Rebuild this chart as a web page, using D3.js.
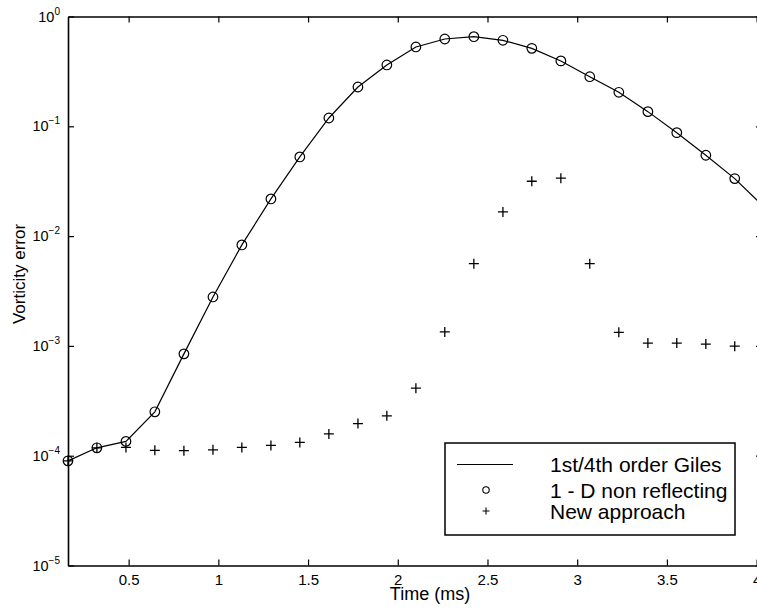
<!DOCTYPE html>
<html>
<head>
<meta charset="utf-8">
<script src="https://cdn.jsdelivr.net/npm/d3@7"></script>
<style>
  html, body { margin: 0; padding: 0; background: #fff; }
  svg { display: block; font-family: "Liberation Sans", Arial, Helvetica, sans-serif; }
</style>
</head>
<body>
<svg id="chart" width="757" height="609"></svg>
<script>
// ---- data ----
const times = [0.162, 0.323, 0.485, 0.646, 0.808, 0.970, 1.131, 1.293, 1.454, 1.616, 1.778, 1.939,
               2.101, 2.262, 2.424, 2.586, 2.747, 2.909, 3.070, 3.232, 3.394, 3.555, 3.717, 3.878];
const gilesTimes = [0.162, 0.323, 0.485, 0.646, 0.808, 0.970, 1.131, 1.293, 1.454, 1.616, 1.778, 1.939,
               2.101, 2.262, 2.424, 2.586, 2.747, 2.909, 3.070, 3.232, 3.394, 3.555, 3.717, 3.878, 4.040];
const gilesValues = [8.98e-5, 1.18e-4, 1.35e-4, 2.51e-4, 8.46e-4, 2.79e-3, 8.31e-3, 2.18e-2, 5.26e-2,
               0.119, 0.228, 0.362, 0.528, 0.624, 0.655, 0.607, 0.513, 0.394, 0.283, 0.204, 0.136,
               0.0875, 0.0545, 0.0334, 0.0185];
const nonReflValues = [8.98e-5, 1.18e-4, 1.35e-4, 2.51e-4, 8.46e-4, 2.79e-3, 8.31e-3, 2.18e-2, 5.26e-2,
               0.119, 0.228, 0.362, 0.528, 0.624, 0.655, 0.607, 0.513, 0.394, 0.283, 0.204, 0.136,
               0.0875, 0.0545, 0.0334];
const newValues = [8.98e-5, 1.18e-4, 1.19e-4, 1.12e-4, 1.11e-4, 1.13e-4, 1.19e-4, 1.24e-4, 1.32e-4,
               1.58e-4, 1.96e-4, 2.31e-4, 4.12e-4, 1.34e-3, 5.61e-3, 1.66e-2, 3.16e-2, 3.37e-2,
               5.61e-3, 1.33e-3, 1.06e-3, 1.06e-3, 1.04e-3, 9.94e-4];
const xTicks = [0.5, 1, 1.5, 2, 2.5, 3, 3.5, 4];
const xTickLabels = ["0.5", "1", "1.5", "2", "2.5", "3", "3.5", "4"];
const yTicks = [1, 1e-1, 1e-2, 1e-3, 1e-4, 1e-5];
const yTickExponents = ["0", "\u22121", "\u22122", "\u22123", "\u22124", "\u22125"];
const legendLabels = ["1st/4th order Giles", "1 - D non reflecting", "New approach"];
const xLabel = "Time (ms)";
const yLabel = "Vorticity error";

// ---- layout ----
const L = 68, R = 762, T = 16.5, B = 565.5;
const svg = d3.select("#chart");
const x = d3.scaleLinear().domain([0.162, 4.03]).range([L, R]);
const y = d3.scaleLog().domain([1e-5, 1]).range([B, T]);

// axes (ticks inward, box)
const axStroke = "#000";
const gBottom = svg.append("g").attr("transform", `translate(0,${B})`)
  .call(d3.axisBottom(x).tickValues(xTicks).tickSizeInner(-6).tickSizeOuter(0).tickPadding(9)
        .tickFormat((d, i) => xTickLabels[i]));
gBottom.selectAll("text").attr("font-size", 15).attr("font-family", "Liberation Sans, Arial, sans-serif").attr("fill", "#000");
const gTop = svg.append("g").attr("transform", `translate(0,${T})`)
  .call(d3.axisTop(x).tickValues(xTicks).tickSizeInner(-6).tickSizeOuter(0).tickFormat(""));
const gLeft = svg.append("g").attr("transform", `translate(${L},0)`)
  .call(d3.axisLeft(y).tickValues(yTicks).tickSizeInner(-6).tickSizeOuter(0).tickFormat(""));
const gRight = svg.append("g").attr("transform", `translate(${R},0)`)
  .call(d3.axisRight(y).tickValues(yTicks).tickSizeInner(-6).tickSizeOuter(0).tickFormat(""));
[gBottom, gTop, gLeft, gRight].forEach(g => {
  g.selectAll(".domain").attr("stroke", axStroke).attr("stroke-width", 1.6);
  g.selectAll(".tick line").attr("stroke", axStroke).attr("stroke-width", 1.2);
});

// y tick labels 10^k
yTicks.forEach((v, i) => {
  const t = svg.append("text")
    .attr("x", 60).attr("y", y(v) + 5).attr("text-anchor", "end")
    .attr("font-size", 14.5).attr("fill", "#000");
  t.append("tspan").text("10");
  t.append("tspan").attr("dy", -7).attr("font-size", 10).text(yTickExponents[i]);
});

// axis labels
svg.append("text").attr("x", 430).attr("y", 600).attr("text-anchor", "middle")
  .attr("font-size", 18).attr("fill", "#000").text(xLabel);
svg.append("text").attr("transform", `translate(25,274) rotate(-90)`).attr("text-anchor", "middle")
  .attr("font-size", 17).attr("fill", "#000").text(yLabel);

// Giles line
const lineData = gilesTimes.map((t, i) => [t, gilesValues[i]]);
svg.append("path").datum(lineData)
  .attr("d", d3.line().x(d => x(d[0])).y(d => y(d[1])))
  .attr("fill", "none").attr("stroke", "#000").attr("stroke-width", 1.2);

// circles
svg.append("g").selectAll("circle").data(times.map((t, i) => [t, nonReflValues[i]])).join("circle")
  .attr("cx", d => x(d[0])).attr("cy", d => y(d[1])).attr("r", 4.8)
  .attr("fill", "none").attr("stroke", "#000").attr("stroke-width", 1.2);

// plus markers
const plusPath = (cx, cy, s) => `M${cx - s},${cy}H${cx + s}M${cx},${cy - s}V${cy + s}`;
svg.append("g").selectAll("path").data(times.map((t, i) => [t, newValues[i]])).join("path")
  .attr("d", d => plusPath(x(d[0]), y(d[1]), 5))
  .attr("fill", "none").attr("stroke", "#000").attr("stroke-width", 1.3);

// legend
const lg = svg.append("g");
lg.append("rect").attr("x", 445).attr("y", 443).attr("width", 290).attr("height", 92)
  .attr("fill", "#fff").attr("stroke", "#000").attr("stroke-width", 1.5);
const rowY = [464.5, 490, 511];
lg.append("line").attr("x1", 457).attr("x2", 513).attr("y1", rowY[0]).attr("y2", rowY[0])
  .attr("stroke", "#000").attr("stroke-width", 1.2);
lg.append("circle").attr("cx", 486).attr("cy", rowY[1]).attr("r", 3.2)
  .attr("fill", "none").attr("stroke", "#000").attr("stroke-width", 1.1);
lg.append("path").attr("d", plusPath(486, rowY[2], 3.5)).attr("stroke", "#000").attr("stroke-width", 1.1);
legendLabels.forEach((s, i) => {
  lg.append("text").attr("x", 550).attr("y", rowY[i] + 7.5)
    .attr("font-size", 21).attr("fill", "#000").text(s);
});
</script>
</body>
</html>
